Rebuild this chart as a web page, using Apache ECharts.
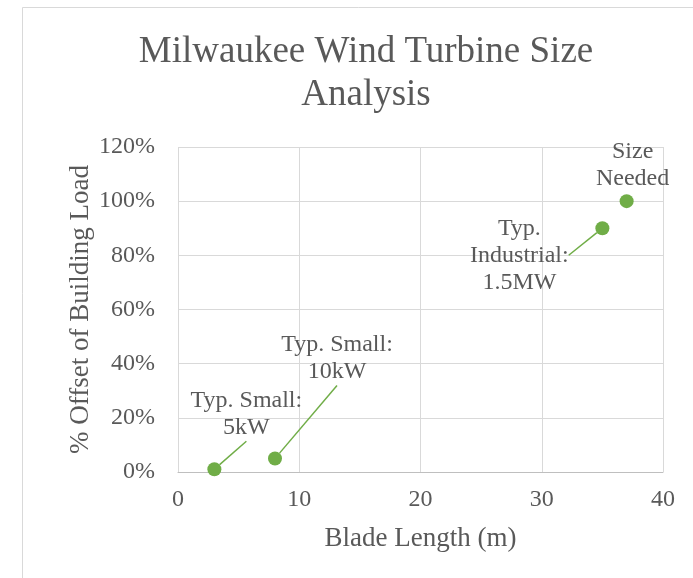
<!DOCTYPE html>
<html>
<head>
<meta charset="utf-8">
<style>
  html, body { margin: 0; padding: 0; background: #ffffff; }
  #chart { width: 693px; height: 578px; }
</style>
<script src="https://cdn.jsdelivr.net/npm/echarts@6/dist/echarts.min.js"></script>
</head>
<body>
<div id="chart"></div>
<script>
// Turbine options: blade length (m) vs. share of building load offset (%)
const bladeLength = [3, 8, 35, 37];
const offsetPct = [1, 5, 90, 100];
const pointLabels = ['Typ. Small:\n5kW', 'Typ. Small:\n10kW', 'Typ.\nIndustrial:\n1.5MW', 'Size\nNeeded'];
const showLeader = [true, true, true, false];
const xTicks = [0, 10, 20, 30, 40];
const yTicks = [0, 20, 40, 60, 80, 100, 120];

// label displacement from each marker (pixels)
const labelShift = [[32, -55], [62, -100], [-83, 27], [6, -36]];

const FONT = '"Liberation Serif", "Times New Roman", serif';
const TEXT = '#595959';
const GREEN = '#70AD47';
const GRID = '#D9D9D9';

const chart = echarts.init(document.getElementById('chart'), null, { renderer: 'canvas' });

const points = bladeLength.map((x, i) => ({
  value: [x, offsetPct[i]],
  label: { formatter: pointLabels[i] },
  labelLine: { show: showLeader[i] }
}));

chart.setOption({
  animation: false,
  backgroundColor: '#ffffff',
  graphic: [{
    type: 'rect',
    shape: { x: 22.5, y: 7.5, width: 700, height: 620 },
    style: { fill: 'none', stroke: GRID, lineWidth: 1 },
    z: -10
  }],
  title: {
    text: 'Milwaukee Wind Turbine Size\nAnalysis',
    left: 366,
    textAlign: 'center',
    top: 31,
    padding: 0,
    textStyle: {
      fontFamily: FONT, fontSize: 37, fontWeight: 'normal',
      color: TEXT, lineHeight: 43
    }
  },
  grid: { left: 178, right: 30, top: 147, bottom: 106, containLabel: false },
  xAxis: {
    type: 'value',
    min: xTicks[0], max: xTicks[xTicks.length - 1], interval: xTicks[1] - xTicks[0],
    name: 'Blade Length (m)',
    nameLocation: 'middle',
    nameGap: 53,
    nameMoveOverlap: false,
    nameTextStyle: { fontFamily: FONT, fontSize: 27, color: TEXT },
    axisLine: { show: true, lineStyle: { color: '#BFBFBF', width: 1 } },
    axisTick: { show: false },
    axisLabel: { fontFamily: FONT, fontSize: 24, color: TEXT, margin: 16 },
    splitLine: { show: true, lineStyle: { color: GRID, width: 1 } }
  },
  yAxis: {
    type: 'value',
    min: yTicks[0], max: yTicks[yTicks.length - 1], interval: yTicks[1] - yTicks[0],
    name: '% Offset of Building Load',
    nameLocation: 'middle',
    nameGap: 84,
    nameMoveOverlap: false,
    nameTextStyle: { fontFamily: FONT, fontSize: 27, color: TEXT },
    axisLine: { show: false },
    axisTick: { show: false },
    axisLabel: { fontFamily: FONT, fontSize: 24, color: TEXT, margin: 23, formatter: '{value}%' },
    splitLine: { show: true, lineStyle: { color: GRID, width: 1 } }
  },
  series: [{
    type: 'scatter',
    symbol: 'circle',
    symbolSize: 14,
    itemStyle: { color: GREEN, opacity: 1 },
    data: points,
    label: {
      show: true,
      position: 'inside',
      fontFamily: FONT,
      fontSize: 24,
      lineHeight: 27,
      color: TEXT,
      align: 'center'
    },
    labelLine: {
      show: true,
      lineStyle: { color: GREEN, width: 1.5, opacity: 1 }
    },
    labelLayout: function (params) {
      const s = labelShift[params.dataIndex];
      return { dx: s[0], dy: s[1] };
    }
  }]
});
</script>
</body>
</html>
